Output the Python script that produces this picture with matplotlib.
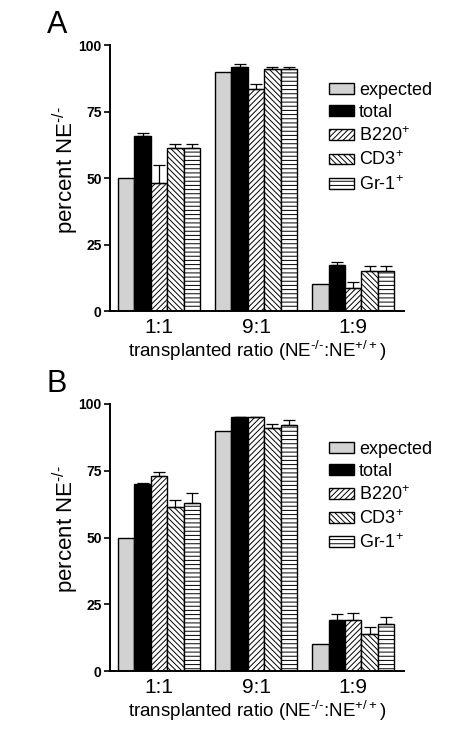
import numpy as np
import matplotlib.pyplot as plt

plt.rcParams['font.family'] = 'Liberation Sans'
plt.rcParams['mathtext.fontset'] = 'custom'
plt.rcParams['mathtext.rm'] = 'Liberation Sans'
plt.rcParams['hatch.linewidth'] = 0.7

groups = ['1:1', '9:1', '1:9']
series = ['expected', 'total', 'B220$^{+}$', 'CD3$^{+}$', 'Gr-1$^{+}$']

# panel A
a_vals = [[50, 90, 10],
          [66, 92, 17.5],
          [48, 83.5, 8.5],
          [61.5, 91, 15],
          [61.5, 91, 15]]
a_err = [[0, 0, 0],
         [1.0, 1.0, 0.8],
         [7.0, 2.0, 2.5],
         [1.2, 0.8, 1.8],
         [1.2, 0.8, 1.8]]

# panel B
b_vals = [[50, 90, 10],
          [70, 95, 19],
          [73, 95, 19],
          [61.5, 91, 14],
          [63, 92, 17.5]]
b_err = [[0, 0, 0],
         [0.5, 0, 2.5],
         [1.5, 0, 2.7],
         [2.5, 1.5, 2.5],
         [3.5, 1.8, 2.7]]

colors = ['#d2d2d2', 'black', 'white', 'white', 'white']
hatches = [None, None, '//////', '\\\\\\\\\\\\', '----']

fig = plt.figure(figsize=(4.7, 7.55), dpi=100)
axA = fig.add_axes([0.234, 0.588, 0.626, 0.352])
axB = fig.add_axes([0.234, 0.111, 0.626, 0.354])

w = 0.169
x = np.arange(len(groups))

def draw(ax, vals, errs, letter):
    for i in range(len(series)):
        pos = x + (i - 2) * w
        ax.bar(pos, vals[i], w, color=colors[i], edgecolor='black',
               linewidth=1.0, hatch=hatches[i], label=series[i], zorder=2)
        e = np.array(errs[i])
        if e.any():
            ax.errorbar(pos, vals[i], yerr=[np.zeros(3), e], fmt='none',
                        ecolor='black', elinewidth=0.9, capsize=4,
                        capthick=0.9, clip_on=False, zorder=3)
    ax.set_xlim(-0.505, 2.526)
    ax.set_ylim(0, 100)
    ax.set_yticks([0, 25, 50, 75, 100])
    ax.set_xticks(x)
    ax.set_xticklabels(groups, fontsize=15)
    for t in ax.get_yticklabels():
        t.set_fontweight('bold')
        t.set_fontsize(10)
    ax.tick_params(axis='x', length=0, pad=5)
    ax.tick_params(axis='y', length=4, width=1.2, pad=2)
    ax.spines['top'].set_visible(False)
    ax.spines['right'].set_visible(False)
    ax.spines['left'].set_linewidth(1.4)
    ax.spines['bottom'].set_linewidth(1.4)
    ax.set_ylabel(r'percent NE$^{\text{-/-}}$', fontsize=16)
    ax.yaxis.set_label_coords(-0.10, 0.53)
    ax.set_xlabel(r'transplanted ratio (NE$^{\text{-/-}}$:NE$^{+/+}$)',
                  fontsize=13.5, labelpad=1)
    ax.legend(loc='upper left', bbox_to_anchor=(0.72, 0.89), frameon=False,
              fontsize=13, handlelength=1.4, handleheight=0.55,
              handletextpad=0.25, labelspacing=0.3, borderaxespad=0)
    ax.text(-0.215, 1.02, letter, transform=ax.transAxes, fontsize=22,
            va='bottom', ha='left')

draw(axA, a_vals, a_err, 'A')
draw(axB, b_vals, b_err, 'B')

fig.savefig('out.png', dpi=100)
